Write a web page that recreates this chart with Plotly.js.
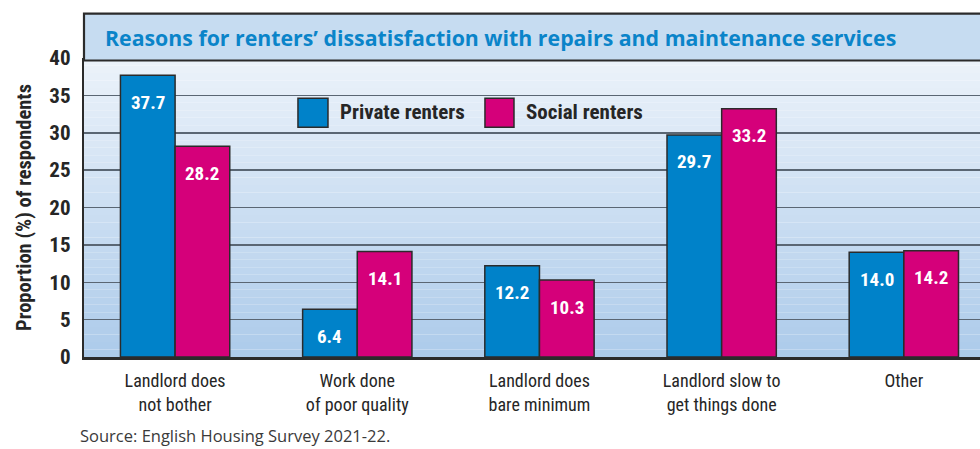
<!DOCTYPE html>
<html>
<head>
<meta charset="utf-8">
<script src="https://cdn.plot.ly/plotly-3.0.1.min.js"></script>
<style>html,body{margin:0;padding:0;background:#fff;}#chart{width:980px;height:449px;}</style>
</head>
<body>
<div id="chart"></div>
<script>
const categories = ["Landlord does<br>not bother", "Work done<br>of poor quality", "Landlord does<br>bare minimum", "Landlord slow to<br>get things done", "Other"];
const seriesNames = ["Private renters", "Social renters"];
const privateRenters = [37.7, 6.4, 12.2, 29.7, 14.0];
const socialRenters = [28.2, 14.1, 10.3, 33.2, 14.2];
const yTicks = [0, 5, 10, 15, 20, 25, 30, 35, 40];
const titleText = "Reasons for renters’ dissatisfaction with repairs and maintenance services";
const yTitle = "Proportion (%) of respondents";
const sourceText = "Source: English Housing Survey 2021-22.";

const BLUE = "#0082c9", PINK = "#d5007a", EDGE = "#2b2b2b";
const COND = "'Liberation Sans Narrow', 'Roboto Condensed', 'DejaVu Sans Condensed', Roboto, sans-serif";
const SANS = "'Open Sans', 'Noto Sans', sans-serif";

const traces = [
  {type: "bar", name: seriesNames[0], x: categories, y: privateRenters, marker: {color: BLUE, line: {color: EDGE, width: 1.5}}, hoverinfo: "skip"},
  {type: "bar", name: seriesNames[1], x: categories, y: socialRenters, marker: {color: PINK, line: {color: EDGE, width: 1.5}}, hoverinfo: "skip"}
];

// gradient background bands
const shapes = [];
const N = 40;
const gradTop = [236, 242, 250], gradBot = [172, 203, 234];
for (let i = 0; i < N; i++) {
  const t = (i + 0.5) / N; // 0 bottom -> 1 top
  const c = gradBot.map((b, k) => Math.round(b + (gradTop[k] - b) * t));
  shapes.push({type: "rect", xref: "paper", yref: "paper", x0: 0, x1: 1, y0: i / N, y1: (i + 1) / N,
    fillcolor: `rgb(${c[0]},${c[1]},${c[2]})`, line: {width: 0}, layer: "below"});
}
// title band
shapes.push({type: "rect", xref: "paper", yref: "paper", x0: 0, x1: 1.02, y0: 0.9917, y1: 1.1483,
  fillcolor: "#c6dcf1", line: {color: "#2b2b2b", width: 2.2}, layer: "above"});
// legend swatches
shapes.push({type: "rect", xref: "paper", yref: "paper", x0: 0.2388, x1: 0.2723, y0: 0.768, y1: 0.865,
  fillcolor: BLUE, line: {color: EDGE, width: 1.5}, layer: "above"});
shapes.push({type: "rect", xref: "paper", yref: "paper", x0: 0.4475, x1: 0.4799, y0: 0.768, y1: 0.865,
  fillcolor: PINK, line: {color: EDGE, width: 1.5}, layer: "above"});

const annotations = [
  {xref: "paper", yref: "paper", x: 0.0212, y: 1.07, xanchor: "left", yanchor: "middle", showarrow: false,
   text: titleText, font: {family: SANS, size: 21.3, color: "#0a84c9", weight: "bold"}},
  {xref: "paper", yref: "paper", x: 0.2835, y: 0.818, xanchor: "left", yanchor: "middle", showarrow: false,
   text: seriesNames[0], font: {family: COND, size: 21, color: "#262626", weight: "bold"}},
  {xref: "paper", yref: "paper", x: 0.491, y: 0.818, xanchor: "left", yanchor: "middle", showarrow: false,
   text: seriesNames[1], font: {family: COND, size: 21, color: "#262626", weight: "bold"}},
  {xref: "paper", yref: "paper", x: -0.0067, y: -0.263, xanchor: "left", yanchor: "middle", showarrow: false,
   text: sourceText, font: {family: SANS, size: 16.5, color: "#3a3a3a"}}
];
// value labels inside bars
[privateRenters, socialRenters].forEach((vals, s) => {
  vals.forEach((v, i) => {
    annotations.push({x: i + (s === 0 ? -0.15 : 0.15), y: v, xref: "x", yref: "y", yshift: -27,
      xanchor: "center", yanchor: "middle", showarrow: false, text: v.toFixed(1),
      font: {family: COND, size: 19, color: "#ffffff", weight: "bold"}});
  });
});

const layout = {
  width: 980, height: 449,
  margin: {l: 84, r: 0, t: 57.5, b: 91.5, pad: 0},
  paper_bgcolor: "#ffffff", plot_bgcolor: "rgba(0,0,0,0)",
  barmode: "group", bargap: 0.4, bargroupgap: 0,
  showlegend: false,
  xaxis: {type: "category", range: [-0.5, 4.418], showline: true, linecolor: "#2b2b2b", linewidth: 2.5,
    showgrid: false, zeroline: false, ticks: "outside", ticklen: 6, tickcolor: "rgba(0,0,0,0)",
    tickfont: {family: COND, size: 18, color: "#262626"}, fixedrange: true},
  yaxis: {range: [0, 40], tickvals: yTicks, ticktext: yTicks.map(String), showline: true, linecolor: "#2b2b2b", linewidth: 2.2,
    showgrid: true, gridcolor: "#5a6673", gridwidth: 1.5, zeroline: false,
    ticks: "outside", ticklen: 7, tickcolor: "rgba(0,0,0,0)",
    tickfont: {family: COND, size: 21, color: "#262626", weight: "bold"},
    title: {text: yTitle, standoff: 12, font: {family: COND, size: 20.5, color: "#262626", weight: "bold"}}, fixedrange: true},
  shapes: shapes,
  annotations: annotations
};

Plotly.newPlot("chart", traces, layout, {displayModeBar: false, staticPlot: true});
</script>
</body>
</html>
